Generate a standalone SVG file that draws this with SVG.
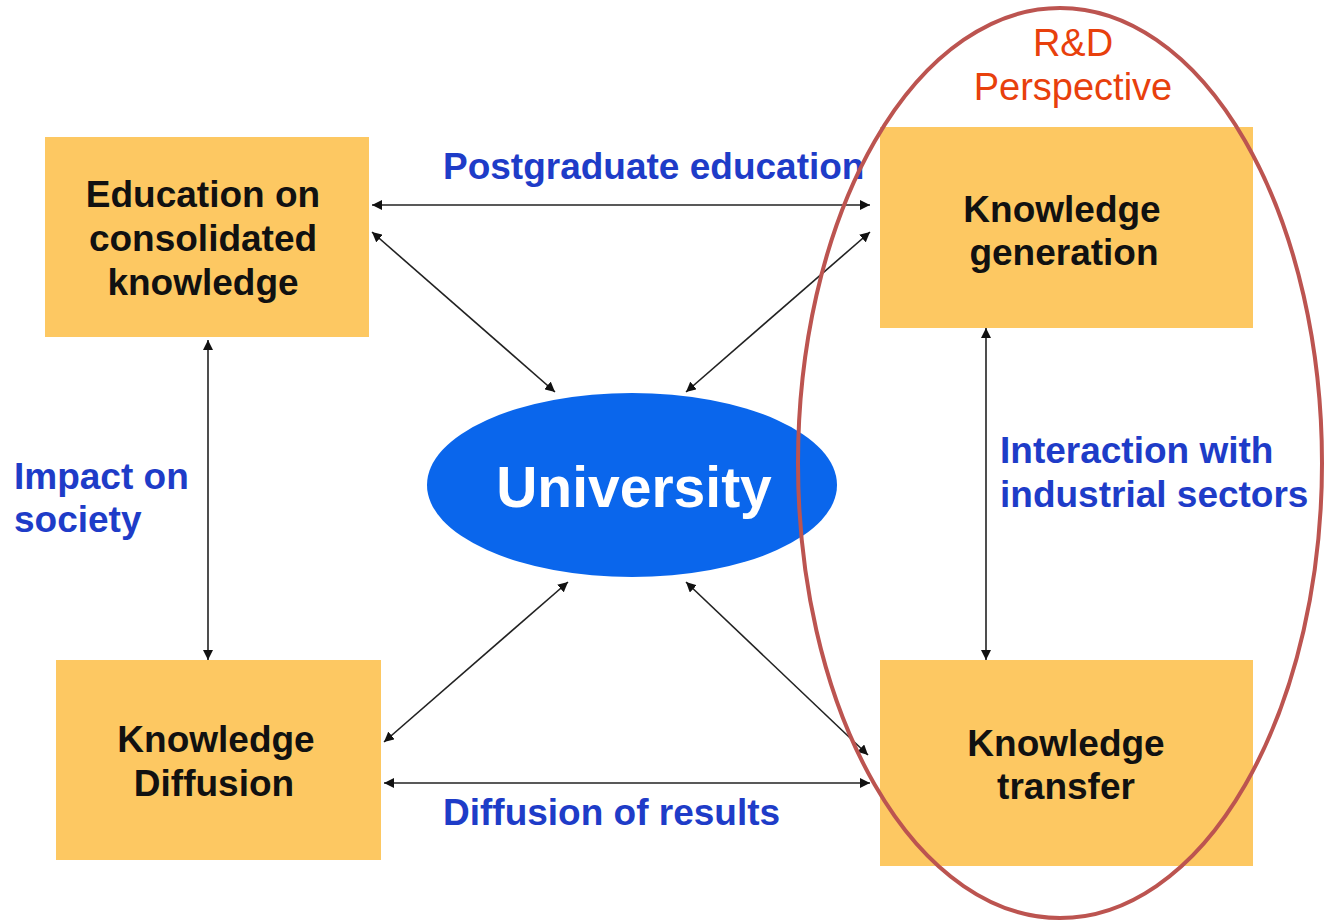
<svg xmlns="http://www.w3.org/2000/svg" width="1329" height="923" viewBox="0 0 1329 923">
<defs>
<marker id="ah" viewBox="0 0 10 10" refX="10" refY="5" markerWidth="10" markerHeight="10" markerUnits="userSpaceOnUse" orient="auto-start-reverse">
<path d="M0,0 L10,5 L0,10 z" fill="#111"/>
</marker>
</defs>
<style>
.box{fill:#FDC862;}
.bt{font-family:"Liberation Sans",Arial,sans-serif;font-weight:bold;font-size:37px;fill:#111;text-anchor:middle;}
.lbl{font-family:"Liberation Sans",Arial,sans-serif;font-weight:bold;font-size:37px;fill:#1E3CC8;}
.red{font-family:"Liberation Sans",Arial,sans-serif;font-size:38px;fill:#E8400C;text-anchor:middle;}
.con line{stroke:#222;stroke-width:1.6;marker-start:url(#ah);marker-end:url(#ah);}
</style>
<rect width="1329" height="923" fill="#fff"/>
<g id="edu"><rect class="box" x="45" y="137" width="324" height="200"/>
<text class="bt" x="203" y="207">Education on</text><text class="bt" x="203" y="251">consolidated</text><text class="bt" x="203" y="295">knowledge</text></g>
<g id="gen"><rect class="box" x="880" y="127" width="373" height="201"/>
<text class="bt" x="1062" y="222">Knowledge</text><text class="bt" x="1064" y="265">generation</text></g>
<g id="diff"><rect class="box" x="56" y="660" width="325" height="200"/>
<text class="bt" x="216" y="752">Knowledge</text><text class="bt" x="214" y="796">Diffusion</text></g>
<g id="trans"><rect class="box" x="880" y="660" width="373" height="206"/>
<text class="bt" x="1066" y="756">Knowledge</text><text class="bt" x="1066" y="799">transfer</text></g>
<g id="univ"><ellipse cx="632" cy="485" rx="205" ry="92" fill="#0A66EC"/>
<text x="634" y="507" font-family="Liberation Sans,Arial,sans-serif" font-weight="bold" font-size="57" fill="#fff" text-anchor="middle">University</text></g>
<g class="con">
<line x1="372" y1="205" x2="870" y2="205"/>
<line x1="372" y1="232" x2="555" y2="392"/>
<line x1="870" y1="232" x2="686" y2="392"/>
<line x1="208" y1="340" x2="208" y2="660"/>
<line x1="986" y1="328" x2="986" y2="660"/>
<line x1="384" y1="742" x2="568" y2="582"/>
<line x1="686" y1="582" x2="868" y2="755"/>
<line x1="384" y1="783" x2="870" y2="783"/>
</g>
<g id="labels">
<text class="lbl" x="443" y="179">Postgraduate education</text>
<text class="lbl" x="443" y="825">Diffusion of results</text>
<text class="lbl" x="14" y="489">Impact on</text><text class="lbl" x="14" y="532">society</text>
<text class="lbl" x="1000" y="463">Interaction with</text><text class="lbl" x="1000" y="507">industrial sectors</text>
</g>
<g id="rd"><ellipse cx="1060" cy="463" rx="262" ry="455" fill="none" stroke="#BC5450" stroke-width="4"/>
<text class="red" x="1073" y="56">R&amp;D</text><text class="red" x="1073" y="100">Perspective</text></g>
</svg>
